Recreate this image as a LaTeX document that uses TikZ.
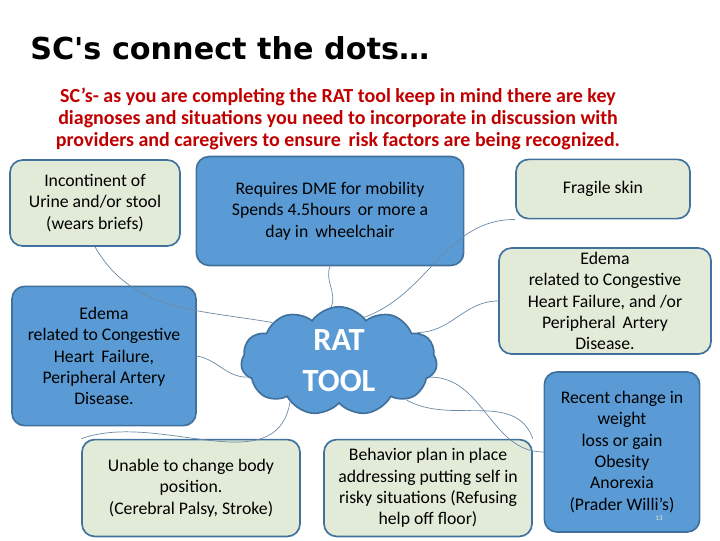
\documentclass[tikz,border=0pt]{standalone}
\usepackage{fontspec}
\setmainfont{Carlito}
\newfontfamily\titlefont{DejaVu Sans}
\usetikzlibrary{shapes.symbols}
\definecolor{boxblue}{HTML}{5B9BD5}
\definecolor{boxgreen}{HTML}{E2EBD8}
\definecolor{boxline}{HTML}{41719C}
\definecolor{linkline}{HTML}{6A8AA8}
\definecolor{notered}{HTML}{C00000}
\begin{document}
\begin{tikzpicture}[x=0.025cm, y=-0.025cm,
  greenbox/.style={draw=boxline, line width=1.2pt, fill=boxgreen, rounded corners=9pt, align=center, font=\fontsize{12.6}{15.2}\selectfont, inner sep=0pt},
  bluebox/.style={draw=boxline, line width=1.2pt, fill=boxblue, rounded corners=9pt, align=center, font=\fontsize{12.6}{15.2}\selectfont, inner sep=0pt},
  link/.style={draw=linkline, line width=0.5pt}]

\useasboundingbox (0,0) rectangle (720,540);

\node (title) at (30,48) [anchor=west, inner sep=0pt, font=\titlefont\bfseries\fontsize{21.5}{24}\selectfont] {SC's connect the dots…};
\node (intro) at (338,119) [align=center, text=notered, font=\bfseries\fontsize{14.2}{15.8}\selectfont] {SC's- as you are completing the RAT tool keep in mind there are key\\diagnoses and situations you need to incorporate in discussion with\\providers and caregivers to ensure\, risk factors are being recognized.};

\node (incont) at (95,203) [greenbox, minimum width=4.25cm, minimum height=2.15cm] {Incontinent of\\Urine and/or stool\\(wears briefs)};
\node (dme) at (330,211) [bluebox, minimum width=6.68cm, minimum height=2.72cm] {Requires DME for mobility\\Spends 4.5hours\, or more a\\day in\, wheelchair};
\node (fragile) at (603,189) [greenbox, minimum width=4.35cm, minimum height=1.48cm] {Fragile skin};
\node (edemar) at (605,301) [greenbox, minimum width=5.3cm, minimum height=2.65cm] {Edema\\related to Congestive\\Heart Failure, and /or\\Peripheral\, Artery\\Disease.};
\node (edemal) at (104,356) [bluebox, minimum width=4.6cm, minimum height=3.48cm] {Edema\\related to Congestive\\Heart\, Failure,\\Peripheral Artery\\Disease.};
\node (unable) at (191,488) [greenbox, minimum width=5.45cm, minimum height=2.42cm] {Unable to change body\\position.\\(Cerebral Palsy, Stroke)};
\node (behavior) at (428,488) [greenbox, minimum width=5.2cm, minimum height=2.42cm] {Behavior plan in place\\addressing putting self in\\risky situations (Refusing\\help off floor)};
\node (recent) at (622,452) [bluebox, minimum width=3.88cm, minimum height=4.0cm] {Recent change in\\weight\\loss or gain\\Obesity\\Anorexia\\(Prader Willi's)};
\node (pagenum) at (659,518) [font=\fontsize{5}{6}\selectfont, text=boxgreen] {13};

\node (rat) at (339,361) [cloud, cloud puffs=11, cloud puff arc=110, aspect=1.9, draw=boxline, line width=1.2pt, fill=boxblue, minimum width=4.9cm, minimum height=2.65cm, align=center, text=white, font=\bfseries\fontsize{23}{29}\selectfont, inner sep=0pt] {RAT\\TOOL};

\path[link] (rat.150) to[out=170, in=-60] (incont.south) ;
\path[link] (rat.98) to[out=70, in=-110] (dme.south);
\path[link] (rat.60) to[out=20, in=180] (fragile.south west);
\path[link] (rat.20) to[out=0, in=180] (edemar.west);
\path[link] (rat.190) to[out=180, in=-10] (edemal.east);
\path[link] (rat.220) to[out=-100, in=20] (unable.north west);
\path[link] (rat.-30) to[out=-30, in=110] (behavior.north east);
\path[link] (rat.-10) to[out=0, in=180] (recent.west);
\end{tikzpicture}
\end{document}
